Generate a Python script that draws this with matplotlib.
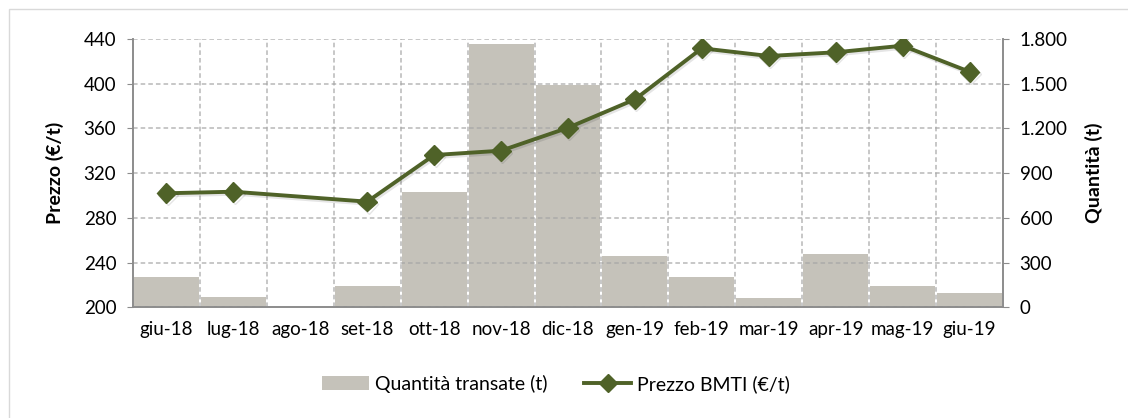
import numpy as np
import matplotlib
matplotlib.use("Agg")
import matplotlib.pyplot as plt
import matplotlib.patheffects as pe
from matplotlib.patches import Rectangle, Patch
from matplotlib.lines import Line2D
from matplotlib.ticker import FuncFormatter

plt.rcParams['font.family'] = ['Lato', 'DejaVu Sans']

# dati
mesi = ['giu-18', 'lug-18', 'ago-18', 'set-18', 'ott-18', 'nov-18', 'dic-18',
        'gen-19', 'feb-19', 'mar-19', 'apr-19', 'mag-19', 'giu-19']
quantita = [205, 67, 0, 145, 776, 1766, 1491, 344, 205, 60, 358, 143, 98]
prezzo = [302.0, 303.4, np.nan, 294.5, 336.2, 340.1, 360.6, 386.0,
          431.7, 424.8, 428.1, 434.0, 410.7]

verde = '#4f6228'
grigio_barre = '#c5c2ba'
grigio_griglia = '#a6a6a6'
grigio_assi = '#8c8c8c'

fig = plt.figure(figsize=(11.28, 4.18), dpi=100)
# cornice del grafico
fig.patches.append(Rectangle((9 / 1128, -0.1), 1.2, 1 - 9 / 418 + 0.1,
                             transform=fig.transFigure, fill=False,
                             edgecolor='#d9d9d9', lw=1.0))

ax = fig.add_axes([133 / 1128, 1 - 307.3 / 418, (1003 - 133) / 1128, (307.3 - 39) / 418])
ax_q = ax.twinx()

x = np.arange(len(mesi))

# barre (asse destro)
ax_q.bar(x, quantita, width=0.97, color=grigio_barre, zorder=1)
ax_q.set_ylim(0, 1800)
ax_q.set_yticks(np.arange(0, 1801, 300))
ax_q.yaxis.set_major_formatter(FuncFormatter(lambda v, p: f'{int(v):,}'.replace(',', '.')))
ax_q.set_ylabel('Quantità (t)', fontsize=14, fontweight='bold', labelpad=12)

# asse del prezzo sopra le barre
ax.set_zorder(ax_q.get_zorder() + 1)
ax.patch.set_visible(False)

m = ~np.isnan(prezzo)
ax.plot(x[m], np.array(prezzo)[m], color=verde, lw=2.8, marker='D', markersize=10,
        markerfacecolor=verde, markeredgecolor=verde, zorder=3,
        path_effects=[pe.SimpleLineShadow(offset=(1, -1.5), alpha=0.1), pe.Normal()])
ax.set_ylim(200, 440)
ax.set_yticks(np.arange(200, 441, 40))
ax.set_xlim(-0.5, len(mesi) - 0.5)
ax.set_xticks(x)
ax.set_xticklabels(mesi)
ax.set_xticks(np.arange(-0.5, len(mesi), 1), minor=True)
ax.set_ylabel('Prezzo (€/t)', fontsize=14, fontweight='bold', labelpad=14)

# griglia tratteggiata sopra le barre, sotto la linea
ax.set_axisbelow(True)
ax.grid(True, axis='y', which='major', linestyle=(0, (3, 2)), color=grigio_griglia, lw=1.1, alpha=0.8)
ax.grid(True, axis='x', which='minor', linestyle=(0, (3, 2)), color=grigio_griglia, lw=1.1, alpha=0.8)
ax.grid(False, axis='x', which='major')

for a in (ax, ax_q):
    a.tick_params(axis='both', labelsize=13.5, color=grigio_assi, length=4)
    a.tick_params(axis='x', which='both', length=0, pad=10)
    a.spines['top'].set_visible(False)
    for s in ('left', 'right', 'bottom'):
        a.spines[s].set_color(grigio_assi)
        a.spines[s].set_linewidth(1.2)
ax.tick_params(axis='y', pad=8)
ax_q.tick_params(axis='y', pad=8)

# legenda
handles = [Patch(facecolor=grigio_barre, edgecolor='none'),
           Line2D([0], [0], color=verde, lw=2.8, marker='D', markersize=9)]
fig.legend(handles, ['Quantità transate (t)', 'Prezzo BMTI (€/t)'],
           loc='center', bbox_to_anchor=(556 / 1128, 1 - 384 / 418), ncol=2,
           frameon=False, fontsize=14, handlelength=2.4, handletextpad=0.3,
           columnspacing=1.9)

fig.savefig('out.png', dpi=100)
